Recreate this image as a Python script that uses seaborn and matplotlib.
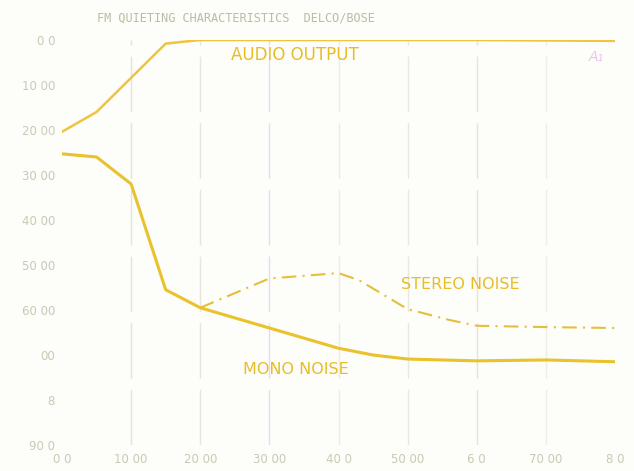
import matplotlib
matplotlib.use("Agg")
import matplotlib.pyplot as plt
import seaborn as sns
import pandas as pd

# Signal level (x) against output / noise level in dB (y, drawn downward)
audio_x = [0, 5, 10, 15, 20, 30, 40, 50, 60, 70, 80]
audio_y = [20.4, 16.0, 8.4, 0.8, 0.0, 0.0, 0.0, 0.0, 0.0, 0.1, 0.2]

mono_x = [0, 5, 10, 15, 20, 30, 40, 45, 50, 60, 70, 80]
mono_y = [25.3, 26.0, 32.0, 55.5, 59.5, 64.0, 68.5, 70.0, 70.9, 71.3, 71.1, 71.5]

stereo_x = [20, 30, 40, 43, 50, 56, 60, 70, 80]
stereo_y = [59.5, 53.0, 51.8, 53.4, 59.8, 62.2, 63.5, 63.8, 64.0]

x_ticks = [0, 10, 20, 30, 40, 50, 60, 70, 80]
x_tick_labels = ["0 0", "10 00", "20 00", "30 00", "40 0", "50 00", "6 0", "70 00", "8 0"]
y_ticks = [0, 10, 20, 30, 40, 50, 60, 70, 80, 90]
y_tick_labels = ["0 0", "10 00", "20 00", "30 00", "40 00", "50 00", "60 00", "00", "8", "90 0"]

title = "FM QUIETING CHARACTERISTICS  DELCO/BOSE"

sns.set_style("white")
plt.rcParams["font.family"] = ["DejaVu Sans"]

bg = "#fdfdfa"
fig = plt.figure(figsize=(6.34, 4.71), dpi=100, facecolor=bg)
ax = fig.add_axes([62 / 634, 1 - 445 / 471, (615 - 62) / 634, (445 - 40) / 471])
ax.set_facecolor(bg)

# faint, broken grid verticals
for gx, col in zip([10, 20, 30, 40, 50, 60, 70],
                   ["#e4e4d6", "#e6e6da", "#e8dcec", "#ecece2", "#e8e8dc", "#e6e6d8", "#eeeee4"]):
    ax.axvline(gx, color=col, lw=1.0, ls=(0, (40, 8)), zorder=0)

audio = pd.DataFrame({"x": audio_x, "y": audio_y})
mono = pd.DataFrame({"x": mono_x, "y": mono_y})
stereo = pd.DataFrame({"x": stereo_x, "y": stereo_y})

sns.lineplot(data=audio, x="x", y="y", ax=ax, color="#efc43e", lw=1.8, sort=False)
sns.lineplot(data=mono, x="x", y="y", ax=ax, color="#e9c22c", lw=2.2, sort=False)
sns.lineplot(data=stereo, x="x", y="y", ax=ax, color="#e4bf3a", lw=1.5, sort=False,
             linestyle=(0, (7, 3, 1, 3)))

ax.set_xlim(0, 80)
ax.set_ylim(90, 0)
ax.set_xlabel("")
ax.set_ylabel("")

tick_col = "#c9c9b6"
ax.set_xticks(x_ticks)
ax.set_xticklabels(x_tick_labels, color=tick_col, fontsize=8.5)
ax.set_yticks(y_ticks)
ax.set_yticklabels(y_tick_labels, color=tick_col, fontsize=8.5)
ax.tick_params(axis="x", length=0, pad=6)
ax.tick_params(axis="y", length=0, pad=5)
for s in ax.spines.values():
    s.set_visible(False)

lab_col = "#e6bd28"
ax.text(33.7, 3.3, "AUDIO OUTPUT", color=lab_col, fontsize=12, ha="center", va="center")
ax.text(57.6, 54.4, "STEREO NOISE", color=lab_col, fontsize=11.5, ha="center", va="center")
ax.text(33.9, 73.3, "MONO NOISE", color=lab_col, fontsize=11.5, ha="center", va="center")
ax.text(77.3, 3.8, "A\u2081", color="#eac6e6", fontsize=10, style="italic", ha="center", va="center")

fig.text(97 / 634, 1 - 18 / 471, title, family="DejaVu Sans Mono", fontsize=8.6,
         color="#bcbca4", ha="left", va="center")

fig.savefig("out.png", dpi=100, facecolor=bg)
